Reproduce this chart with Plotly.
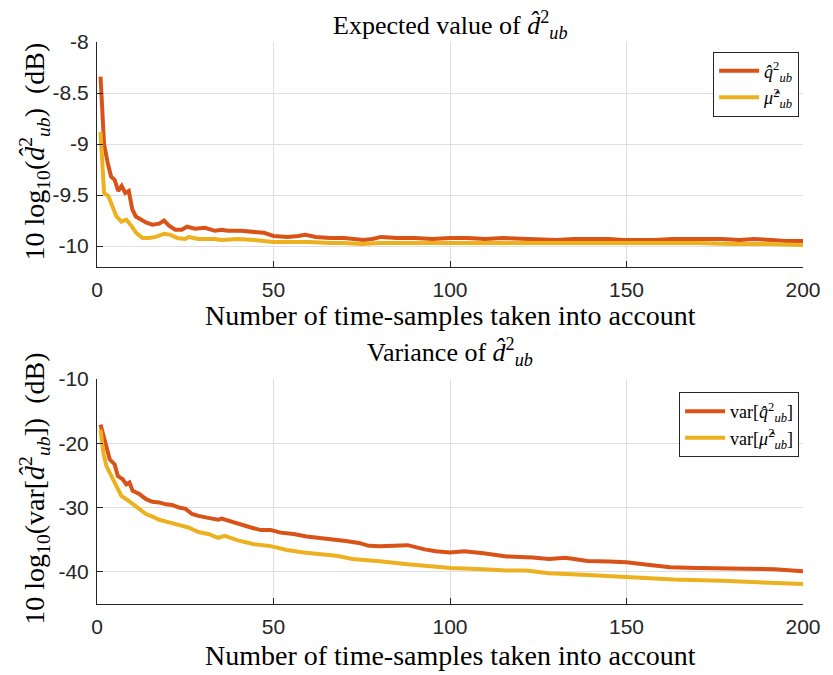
import plotly.graph_objects as go

# ---- Data ----
# Top panel: expected value (dB)
x_top_q = [1, 2, 3, 4, 5, 6, 7, 8, 9, 10, 11, 12.5, 14, 15.7, 17.6, 19, 20.4, 22.2, 24, 25.5,
           27.8, 30.6, 33.4, 35.3, 37, 40.8, 44.5, 47.3, 50, 54, 57, 59, 62, 66, 70, 73, 75.5,
           78, 80.5, 85, 90, 95, 100, 105, 110, 115, 121, 126, 130, 135, 140, 145, 149, 153,
           158, 163, 168, 172, 177, 182, 186, 191, 195, 200]
y_top_q = [-8.34, -9.0, -9.18, -9.32, -9.35, -9.46, -9.41, -9.48, -9.46, -9.64, -9.71, -9.74,
           -9.77, -9.79, -9.78, -9.75, -9.80, -9.84, -9.84, -9.81, -9.83, -9.82, -9.85, -9.84,
           -9.85, -9.85, -9.86, -9.87, -9.90, -9.91, -9.90, -9.89, -9.91, -9.92, -9.92, -9.93,
           -9.94, -9.93, -9.91, -9.92, -9.92, -9.93, -9.92, -9.92, -9.93, -9.92, -9.93, -9.93,
           -9.94, -9.93, -9.93, -9.93, -9.94, -9.94, -9.94, -9.93, -9.93, -9.93, -9.93, -9.94,
           -9.93, -9.94, -9.95, -9.95]

x_top_mu = [1, 2, 3.2, 4.1, 5.5, 6.9, 8.3, 9.7, 11.1, 12.9, 14.8, 16.6, 19, 20.8, 22.7, 25, 26,
            28.7, 33.4, 35.3, 40, 44.5, 50, 54, 60, 66, 70, 75, 80, 85, 90, 100, 110, 120, 130,
            140, 150, 160, 170, 180, 190, 200]
y_top_mu = [-8.88, -9.48, -9.51, -9.59, -9.71, -9.76, -9.74, -9.80, -9.87, -9.92, -9.92, -9.91,
            -9.88, -9.89, -9.92, -9.93, -9.91, -9.93, -9.93, -9.94, -9.93, -9.94, -9.96, -9.96,
            -9.96, -9.97, -9.97, -9.98, -9.97, -9.97, -9.97, -9.97, -9.97, -9.97, -9.97, -9.97,
            -9.97, -9.97, -9.97, -9.98, -9.98, -9.99]

# Bottom panel: variance (dB)
x_bot_q = [1, 1.8, 2.7, 3.6, 5, 5.9, 7.3, 8.3, 9.2, 10.1, 12, 13.9, 15.7, 17.6, 19.5, 21.3, 23.2,
           25.1, 26.9, 28.7, 31.5, 34.3, 35.3, 38, 40.8, 43.6, 46.4, 49.2, 52, 55.7, 59.4, 63,
           66.8, 70.5, 74.2, 77, 80, 84, 88, 92.8, 96, 100, 104, 109.5, 116, 123.4, 128, 132.7,
           139, 145, 150, 156, 162.4, 170, 177, 184.6, 192, 200]
y_bot_q = [-17.1, -18.9, -21.0, -22.5, -23.3, -25.1, -25.6, -26.4, -26.1, -27.4, -27.9, -28.7,
           -29.1, -29.2, -29.5, -29.6, -30.0, -30.2, -31.0, -31.3, -31.6, -31.9, -31.7, -32.2,
           -32.6, -33.1, -33.5, -33.5, -33.9, -34.1, -34.5, -34.7, -34.9, -35.2, -35.5, -35.95,
           -36.0, -35.95, -35.85, -36.5, -36.8, -37.0, -36.8, -37.1, -37.6, -37.75, -38.0,
           -37.8, -38.3, -38.4, -38.5, -38.9, -39.3, -39.4, -39.5, -39.5, -39.6, -39.9]

x_bot_mu = [1, 1.8, 2.7, 3.6, 5, 6.9, 8.3, 10.1, 12, 13.9, 15.7, 17.6, 20.4, 23.2, 25.9, 28.7,
            31.5, 34.3, 36.2, 39.9, 44.5, 49.2, 53.8, 58.5, 63.1, 67.8, 72.4, 77, 80.8, 88, 94,
            100.2, 109.5, 116, 121.6, 128, 139, 150, 163.4, 177, 188, 200]
y_bot_mu = [-17.9, -21.5, -23.6, -24.6, -26.1, -28.2, -28.7, -29.5, -30.3, -31.0, -31.4, -31.9,
            -32.3, -32.7, -33.1, -33.8, -34.1, -34.7, -34.4, -35.1, -35.7, -36.0, -36.6, -37.0,
            -37.2, -37.5, -38.0, -38.3, -38.4, -38.8, -39.1, -39.4, -39.6, -39.8, -39.8, -40.2,
            -40.5, -40.8, -41.2, -41.4, -41.6, -41.9]

x_ticks = [0, 50, 100, 150, 200]
y_ticks_top = [-10, -9.5, -9, -8.5, -8]
y_ticks_bot = [-40, -30, -20, -10]

# ---- Styling ----
ORANGE = "#D95319"
YELLOW = "#EDB120"
AXC = "#262626"
GRID = "#DFDFDF"
SERIF = "Liberation Serif, Times New Roman, serif"
SANS = "Liberation Sans, Arial, Helvetica, sans-serif"
LW = 4

fig = go.Figure()
fig.add_trace(go.Scatter(x=x_top_q, y=y_top_q, mode="lines", line=dict(color=ORANGE, width=LW),
                         name="<i>q̂</i><sup>2</sup><sub><i>ub</i></sub>", xaxis="x", yaxis="y",
                         legend="legend"))
fig.add_trace(go.Scatter(x=x_top_mu, y=y_top_mu, mode="lines", line=dict(color=YELLOW, width=LW),
                         name="<i>μ̂</i><sup>2</sup><sub><i>ub</i></sub>", xaxis="x", yaxis="y",
                         legend="legend"))
fig.add_trace(go.Scatter(x=x_bot_q, y=y_bot_q, mode="lines", line=dict(color=ORANGE, width=LW),
                         name="var[<i>q̂</i><sup>2</sup><sub><i>ub</i></sub>]", xaxis="x2", yaxis="y2",
                         legend="legend2"))
fig.add_trace(go.Scatter(x=x_bot_mu, y=y_bot_mu, mode="lines", line=dict(color=YELLOW, width=LW),
                         name="var[<i>μ̂</i><sup>2</sup><sub><i>ub</i></sub>]", xaxis="x2", yaxis="y2",
                         legend="legend2"))

axis_common = dict(showgrid=True, gridcolor=GRID, gridwidth=1, showline=True, linecolor=AXC,
                   linewidth=1, ticks="inside", ticklen=6, tickcolor=AXC, zeroline=False,
                   tickfont=dict(family=SANS, size=21, color=AXC), mirror=False)

# Page body has an 8px margin, so the figure is offset by 8px; compensate in size/margins.
fig.update_layout(
    width=825, height=667,
    margin=dict(l=89, r=19, t=34, b=71),
    paper_bgcolor="white", plot_bgcolor="white",
    xaxis=dict(domain=[0, 1], range=[0, 200], tickvals=x_ticks, anchor="y",
               ticklabelstandoff=4, **axis_common),
    yaxis=dict(domain=[0.6005, 1], range=[-10.2, -8], tickvals=y_ticks_top,
               ticktext=["-10", "-9.5", "-9", "-8.5", "-8"], anchor="x",
               ticklabelstandoff=3, **axis_common),
    xaxis2=dict(domain=[0, 1], range=[0, 200], tickvals=x_ticks, anchor="y2",
                ticklabelstandoff=4, **axis_common),
    yaxis2=dict(domain=[0, 0.4004], range=[-45, -10], tickvals=y_ticks_bot,
                ticktext=["-40", "-30", "-20", "-10"], anchor="x2",
                ticklabelstandoff=3, **axis_common),
    legend=dict(x=0.9945, y=0.983, xanchor="right", yanchor="top", bgcolor="white",
                bordercolor=AXC, borderwidth=1, font=dict(family=SERIF, size=18, color="black"),
                tracegroupgap=0, itemwidth=40),
    legend2=dict(x=0.9945, y=0.377, xanchor="right", yanchor="top", bgcolor="white",
                 bordercolor=AXC, borderwidth=1, font=dict(family=SERIF, size=18, color="black"),
                 tracegroupgap=0, itemwidth=40),
    showlegend=True,
)

title_font = dict(family=SERIF, size=26, color="black")
xlab_font = dict(family=SERIF, size=28, color="black")
ylab_font = dict(family=SERIF, size=28, color="black")
annotations = [
    dict(text="Expected value of <i>d̂</i><sup>2</sup><sub><i>ub</i></sub>", x=0.5, y=1.0302,
         xref="paper", yref="paper", showarrow=False, xanchor="center", yanchor="middle", font=title_font),
    dict(text="Variance of <i>d̂</i><sup>2</sup><sub><i>ub</i></sub>", x=0.5, y=0.4484,
         xref="paper", yref="paper", showarrow=False, xanchor="center", yanchor="middle", font=title_font),
    dict(text="Number of time-samples taken into account", x=0.5, y=0.5125,
         xref="paper", yref="paper", showarrow=False, xanchor="center", yanchor="middle", font=xlab_font),
    dict(text="Number of time-samples taken into account", x=0.5, y=-0.0925,
         xref="paper", yref="paper", showarrow=False, xanchor="center", yanchor="middle", font=xlab_font),
    dict(text="10 log<sub>10</sub>(<i>d̂</i><sup>2</sup><sub><i>ub</i></sub>)  (dB)", x=-0.088, y=0.805,
         xref="paper", yref="paper", showarrow=False, xanchor="center", yanchor="middle",
         textangle=-90, font=ylab_font),
    dict(text="10 log<sub>10</sub>(var[<i>d̂</i><sup>2</sup><sub><i>ub</i></sub>])  (dB)", x=-0.088, y=0.205,
         xref="paper", yref="paper", showarrow=False, xanchor="center", yanchor="middle",
         textangle=-90, font=ylab_font),
]
fig.update_layout(annotations=annotations)

fig.write_html("out.html")
